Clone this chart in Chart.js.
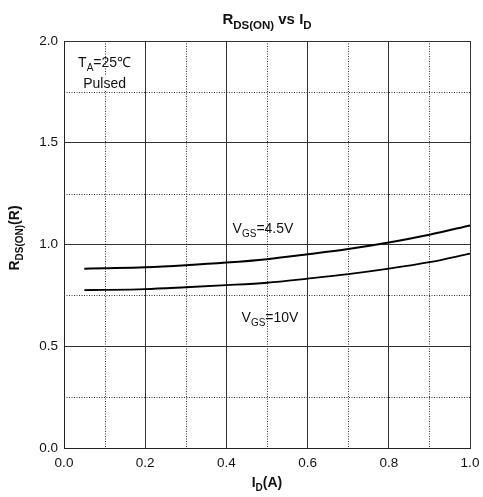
<!DOCTYPE html>
<html>
<head>
<meta charset="utf-8">
<script src="https://cdn.jsdelivr.net/npm/chart.js@4.4.0/dist/chart.umd.min.js"></script>
<style>
    html, body { margin: 0; padding: 0; background: #fff; }
</style>
</head>
<body>
<canvas id="myChart" width="483" height="497"></canvas>
<script>
// drain current (A) and on-resistance
const id_values = [0.05, 0.1, 0.2, 0.3, 0.4, 0.5, 0.6, 0.7, 0.8, 0.9, 1.0];
const rds_vgs45 = [0.881, 0.883, 0.888, 0.898, 0.911, 0.928, 0.952, 0.978, 1.010, 1.048, 1.094];
const rds_vgs10 = [0.776, 0.777, 0.781, 0.790, 0.800, 0.812, 0.832, 0.854, 0.881, 0.913, 0.955];

const x_ticks = [0, 0.2, 0.4, 0.6, 0.8, 1.0];
const y_ticks = [0, 0.5, 1.0, 1.5, 2.0];
const x_minor = [0.1, 0.3, 0.5, 0.7, 0.9];
const y_minor = [0.25, 0.75, 1.25, 1.75];

const FONT = '"Liberation Sans", Arial, Helvetica, sans-serif';

// text with subscripts: parts = [[text, isSub], ...]
function richText(ctx, parts, x, y, size, subSize, bold, align) {
    const f = s => (bold ? 'bold ' : '') + s + 'px ' + FONT;
    let w = 0;
    parts.forEach(p => {
        ctx.font = f(p[1] ? subSize : size);
        w += ctx.measureText(p[0]).width;
    });
    let cx = align === 'center' ? x - w / 2 : x;
    parts.forEach(p => {
        ctx.font = f(p[1] ? subSize : size);
        ctx.fillText(p[0], cx, p[1] ? y + size * 0.3 : y);
        cx += ctx.measureText(p[0]).width;
    });
    return w;
}

const minorGrid = {
    id: 'minorGrid',
    beforeDatasetsDraw(chart) {
        const ctx = chart.ctx, a = chart.chartArea;
        const xs = chart.scales.x, ys = chart.scales.y;
        ctx.save();
        ctx.strokeStyle = '#333';
        ctx.lineWidth = 1;
        ctx.setLineDash([1, 1.5]);
        x_minor.forEach(v => {
            const px = Math.round(xs.getPixelForValue(v)) + 0.5;
            ctx.beginPath();
            ctx.moveTo(px, a.top);
            ctx.lineTo(px, a.bottom);
            ctx.stroke();
        });
        y_minor.forEach(v => {
            const py = Math.round(ys.getPixelForValue(v)) + 0.5;
            ctx.beginPath();
            ctx.moveTo(a.left, py);
            ctx.lineTo(a.right, py);
            ctx.stroke();
        });
        ctx.restore();
    }
};

const labels = {
    id: 'labels',
    afterDraw(chart) {
        const ctx = chart.ctx, a = chart.chartArea;
        const xs = chart.scales.x, ys = chart.scales.y;
        ctx.save();
        ctx.fillStyle = '#111';
        ctx.textAlign = 'left';
        ctx.textBaseline = 'alphabetic';

        // title
        richText(ctx, [['R', 0], ['DS(ON)', 1], [' vs I', 0], ['D', 1]],
            (a.left + a.right) / 2, 24, 15, 11.5, true, 'center');

        // x axis title
        richText(ctx, [['I', 0], ['D', 1], ['(A)', 0]],
            (a.left + a.right) / 2, 487, 14, 10, true, 'center');

        // y axis title
        ctx.save();
        ctx.translate(19, 238);
        ctx.rotate(-Math.PI / 2);
        richText(ctx, [['R', 0], ['DS(ON)', 1], ['(R)', 0]], 0, 0, 14, 10, true, 'center');
        ctx.restore();

        // conditions box
        const cx = xs.getPixelForValue(0.1);
        richText(ctx, [['T', 0], ['A', 1], ['=25\u2103', 0]], cx, 67, 14, 10, false, 'center');
        ctx.font = '14px ' + FONT;
        const pw = ctx.measureText('Pulsed').width;
        ctx.fillStyle = '#fff';
        ctx.fillRect(cx - pw / 2 - 2, 76, pw + 4, 14);
        ctx.fillStyle = '#111';
        richText(ctx, [['Pulsed', 0]], cx, 88, 14, 10, false, 'center');

        // curve labels
        richText(ctx, [['V', 0], ['GS', 1], ['=4.5V', 0]], 263, 233, 14, 10, false, 'center');
        richText(ctx, [['V', 0], ['GS', 1], ['=10V', 0]], 270, 322, 14, 10, false, 'center');
        ctx.restore();
    }
};

const ctx = document.getElementById('myChart');
new Chart(ctx, {
    type: 'line',
    data: {
        datasets: [{
            label: 'VGS=4.5V',
            data: id_values.map((v, i) => ({ x: v, y: rds_vgs45[i] })),
            borderColor: '#000',
            borderWidth: 2,
            pointRadius: 0,
            cubicInterpolationMode: 'monotone',
            fill: false
        }, {
            label: 'VGS=10V',
            data: id_values.map((v, i) => ({ x: v, y: rds_vgs10[i] })),
            borderColor: '#000',
            borderWidth: 1.8,
            pointRadius: 0,
            cubicInterpolationMode: 'monotone',
            fill: false
        }]
    },
    options: {
        responsive: false,
        animation: false,
        devicePixelRatio: 1,
        layout: { padding: { top: 41, right: 13, left: 0, bottom: 0 } },
        plugins: {
            legend: { display: false },
            tooltip: { enabled: false },
            title: { display: false }
        },
        scales: {
            x: {
                type: 'linear',
                min: 0,
                max: 1,
                afterBuildTicks: s => { s.ticks = x_ticks.map(v => ({ value: v })); },
                afterFit: s => { s.height = 49; s.paddingLeft = 0; s.paddingRight = 0; },
                ticks: {
                    callback: v => v.toFixed(1),
                    font: { family: FONT, size: 13.5 },
                    color: '#111',
                    padding: 7,
                    autoSkip: false,
                    maxRotation: 0
                },
                grid: { color: '#333', lineWidth: 1, drawTicks: false },
                border: { color: '#222', width: 1 }
            },
            y: {
                type: 'linear',
                min: 0,
                max: 2,
                afterBuildTicks: s => { s.ticks = y_ticks.map(v => ({ value: v })); },
                afterFit: s => { s.width = 64; s.paddingTop = 0; s.paddingBottom = 0; },
                ticks: {
                    callback: v => v.toFixed(1),
                    font: { family: FONT, size: 13.5 },
                    color: '#111',
                    padding: 6,
                    autoSkip: false
                },
                grid: { color: '#333', lineWidth: 1, drawTicks: false },
                border: { color: '#222', width: 1 }
            }
        }
    },
    plugins: [minorGrid, labels]
});
</script>
</body>
</html>
